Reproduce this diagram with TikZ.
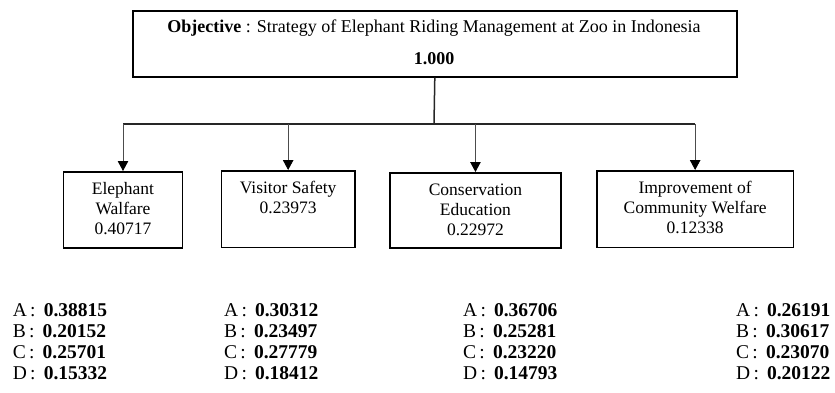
\documentclass[tikz,border=0pt]{standalone}
\usepackage{fontspec}
\setmainfont{Liberation Serif}
\usetikzlibrary{arrows.meta}
\begin{document}
\begin{tikzpicture}[x=1pt,y=-1pt,
  boxshape/.style={draw=black, line width=1.6pt, inner sep=0pt, anchor=north west},
  boxtext/.style={anchor=base, align=center, inner sep=0pt, font=\fontsize{17.5}{20}\selectfont},
  toptext/.style={anchor=base, inner sep=0pt, font=\fontsize{18}{20}\selectfont},
  score/.style={anchor=base west, inner sep=0pt, align=left, font=\fontsize{19.5}{21}\selectfont},
  trunk/.style={line width=1.5pt, black!85},
  bar/.style={line width=2pt, black!85},
  drop/.style={line width=0.9pt, black!70, -{Triangle[width=10.5pt,length=10pt,color=black,fill=black]}}]
\path[use as bounding box] (0,0) rectangle (835,392);

% goal box
\node[boxshape, minimum width=604pt, minimum height=66pt] (obj) at (132,10) {};
\node[toptext] (objt) at (434,32) {\textbf{Objective} : Strategy of Elephant Riding Management at Zoo in Indonesia};
\node[toptext] (objv) at (434,64) {\textbf{1.000}};

% criteria boxes
\node[boxshape, minimum width=119pt, minimum height=76pt] (b1) at (62.7,171) {};
\node[boxshape, minimum width=133.3pt, minimum height=76.7pt] (b2) at (220.7,170) {};
\node[boxshape, minimum width=170.7pt, minimum height=75pt] (b3) at (389.3,172) {};
\node[boxshape, minimum width=196.7pt, minimum height=76.7pt] (b4) at (596,170) {};

% (base anchor = baseline of the last line)
\node[boxtext] (t1) at (b1.north |- 0,234) {Elephant\\Walfare\\0.40717};
\node[boxtext] (t2) at (b2.north |- 0,213) {Visitor Safety\\0.23973};
\node[boxtext] (t3) at (b3.north |- 0,235) {Conservation\\Education\\0.22972};
\node[boxtext] (t4) at (b4.north |- 0,233) {Improvement of\\Community Welfare\\0.12338};

% connectors
\coordinate (hub) at (434,124);
\coordinate (barL) at (b1.north |- hub);
\coordinate (barR) at (b4.north |- hub);
\coordinate (c2) at (b2.north |- hub);
\coordinate (c3) at (b3.north |- hub);
\draw[trunk] (obj.south) -- (hub);
\draw[bar] (barL) -- (barR);
\draw[drop] (barL) -- (b1.north);
\draw[drop] (c2) -- (b2.north);
\draw[drop] (c3) -- (b3.north);
\draw[drop] (barR) -- (b4.north);

% alternative scores
\node[score] (s1) at (12.7,379) {A\,:\ \,\textbf{0.38815}\\B\,:\ \,\textbf{0.20152}\\C\,:\ \,\textbf{0.25701}\\D\,:\ \,\textbf{0.15332}};
\node[score] (s2) at (224,379) {A\,:\ \,\textbf{0.30312}\\B\,:\ \,\textbf{0.23497}\\C\,:\ \,\textbf{0.27779}\\D\,:\ \,\textbf{0.18412}};
\node[score] (s3) at (463,379) {A\,:\ \,\textbf{0.36706}\\B\,:\ \,\textbf{0.25281}\\C\,:\ \,\textbf{0.23220}\\D\,:\ \,\textbf{0.14793}};
\node[score] (s4) at (736,379) {A\,:\ \,\textbf{0.26191}\\B\,:\ \,\textbf{0.30617}\\C\,:\ \,\textbf{0.23070}\\D\,:\ \,\textbf{0.20122}};
\end{tikzpicture}
\end{document}
